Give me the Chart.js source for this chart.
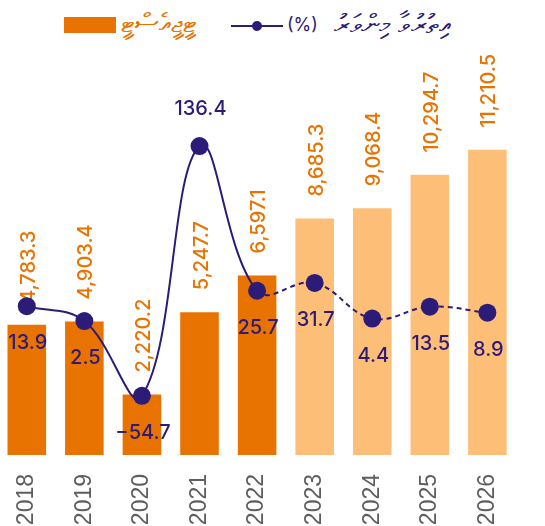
<!DOCTYPE html>
<html>
<head>
<meta charset="utf-8">
<script src="https://cdn.jsdelivr.net/npm/chart.js@4.4.1/dist/chart.umd.min.js"></script>
<style>
html,body{margin:0;padding:0;background:#fff;width:545px;height:526px;overflow:hidden;font-family:Inter,"DejaVu Sans",sans-serif}
#wrap{position:absolute;left:-2px;top:0;width:528px;height:526px}
#legend{position:absolute;left:0;top:0;width:545px;height:50px}
.box{position:absolute;left:64px;top:17px;width:52px;height:16px;background:#E97300}
.t1{position:absolute;left:121px;top:6px;color:#E97300;font-size:27px;line-height:34px;white-space:nowrap}
.sym{position:absolute;left:231px;top:25px;width:52px;height:2px;background:#2D1B78}
.dot{position:absolute;left:252px;top:21px;width:10px;height:10px;border-radius:50%;background:#2D1B78}
.pct{position:absolute;left:287px;top:14px;color:#2D1B78;font-size:18px;line-height:22px;white-space:nowrap}
.t2{position:absolute;left:334px;top:7px;color:#2D1B78;font-size:27px;line-height:34px;white-space:nowrap}
</style>
</head>
<body>
<div id="legend">
  <div class="box"></div>
  <div class="t1" dir="rtl">ޓީޖީއެސްޓީ</div>
  <div class="sym"></div><div class="dot"></div>
  <div class="pct">(%)</div>
  <div class="t2" dir="rtl">އިތުރުވާ މިންވަރު</div>
</div>
<div id="wrap"><canvas id="c" width="528" height="526"></canvas></div>
<script>
const years = ['2018','2019','2020','2021','2022','2023','2024','2025','2026'];
const tgstValues = [4783.3, 4903.4, 2220.2, 5247.7, 6597.1, 8685.3, 9068.4, 10294.7, 11210.5];
const growthValues = [13.9, 2.5, -54.7, 136.4, 25.7, 31.7, 4.4, 13.5, 8.9];
const projectedFrom = 5; // index of first projected year

const ORANGE = '#E97300';
const LIGHT = '#FDBF78';
const PURPLE = '#2D1B78';

const barColors = years.map((y, i) => i < projectedFrom ? ORANGE : LIGHT);

const fmtBar = v => v.toLocaleString('en-US', {minimumFractionDigits:1, maximumFractionDigits:1});
const fmtLine = v => (v < 0 ? '\u2212' : '') + Math.abs(v).toFixed(1);

const labelPlugin = {
  id: 'valueLabels',
  afterDatasetDraw(chart, args) {
    const ctx = chart.ctx;
    ctx.save();
    ctx.font = '500 20px Inter';
    ctx.textBaseline = 'middle';
    if (args.index === 1) {
      ctx.fillStyle = ORANGE;
      ctx.textAlign = 'left';
      args.meta.data.forEach((el, i) => {
        ctx.save();
        ctx.translate(el.x + 2, el.y - 22);
        ctx.rotate(-Math.PI / 2);
        ctx.fillText(fmtBar(tgstValues[i]), 0, 0);
        ctx.restore();
      });
    } else if (args.index === 0) {
      ctx.fillStyle = PURPLE;
      ctx.textAlign = 'center';
      const maxIdx = growthValues.indexOf(Math.max(...growthValues));
      args.meta.data.forEach((el, i) => {
        const dy = i === maxIdx ? -37 : 37;
        ctx.fillText(fmtLine(growthValues[i]), el.x + 1, el.y + dy);
      });
    }
    ctx.restore();
  }
};

new Chart(document.getElementById('c'), {
  data: {
    labels: years,
    datasets: [
      {
        type: 'line',
        label: 'growth',
        data: growthValues,
        yAxisID: 'y1',
        borderColor: PURPLE,
        backgroundColor: PURPLE,
        borderWidth: 2,
        pointRadius: 9,
        pointHoverRadius: 9,
        pointBorderWidth: 0,
        tension: 0.4,
        segment: { borderDash: c => c.p0DataIndex >= projectedFrom - 1 ? [5, 4] : undefined },
        order: 0
      },
      {
        type: 'bar',
        label: 'TGST',
        data: tgstValues,
        yAxisID: 'y',
        backgroundColor: barColors,
        categoryPercentage: 1,
        barPercentage: 0.67,
        order: 1
      }
    ]
  },
  options: {
    responsive: false,
    animation: false,
    layout: { autoPadding: false, padding: { top: 63, left: 0, right: 0, bottom: 0 } },
    plugins: { legend: { display: false }, tooltip: { enabled: false } },
    scales: {
      x: {
        grid: { display: false },
        border: { display: false },
        ticks: {
          maxRotation: 90, minRotation: 90, padding: 11,
          color: '#5E5E5E',
          font: { family: '"Liberation Sans Narrow", "Liberation Sans", sans-serif', size: 23 }
        },
        afterFit: s => { s.height = 71; }
      },
      y: { display: false, min: 0, max: 14400 },
      y1: { display: false, min: -100, max: 200 }
    }
  },
  plugins: [labelPlugin]
});
</script>
</body>
</html>
